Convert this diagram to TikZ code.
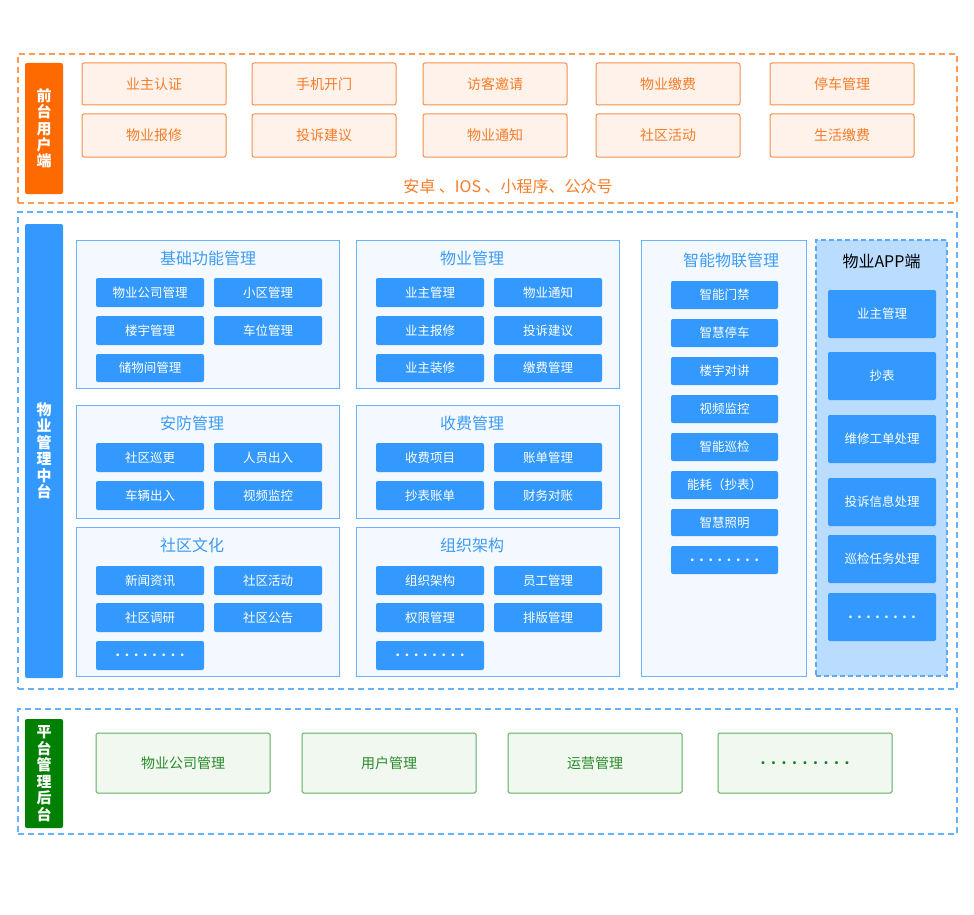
\documentclass[tikz,border=0pt]{standalone}
\usepackage{fontspec}
\setmainfont{Noto Sans CJK SC}
\definecolor{orDash}{HTML}{FF9A52}
\definecolor{orBar}{HTML}{FF6A00}
\definecolor{orFill}{HTML}{FFF2EA}
\definecolor{orLine}{HTML}{F5904A}
\definecolor{orText}{HTML}{F57C28}
\definecolor{blDash}{HTML}{66B2FF}
\definecolor{blBar}{HTML}{3399FF}
\definecolor{pnlFill}{HTML}{F4F9FF}
\definecolor{pnlLine}{HTML}{6BB3FF}
\definecolor{btnFill}{HTML}{3399FF}
\definecolor{ttlText}{HTML}{3D9BF5}
\definecolor{appFill}{HTML}{B9DCFF}
\definecolor{appLine}{HTML}{5AA9FA}
\definecolor{gBar}{HTML}{008000}
\definecolor{gFill}{HTML}{F0F8F0}
\definecolor{gLine}{HTML}{5DAE5D}
\definecolor{gText}{HTML}{2A8A2A}
\definecolor{gDots}{HTML}{1E7A1E}
\newcommand\bx[7]{\node[#1,anchor=north west,minimum width={(#4-#2)*1pt},minimum height={(#5-#3)*1pt}] (#6) at (#2,#3) {#7};}
\newcommand\dotrow[2]{\foreach \k in {1,...,#1}{\makebox[#2]{.}}}
\begin{document}
\begin{tikzpicture}[x=1pt,y=-1pt,
  every node/.style={inner sep=0pt,outer sep=0pt},
  odash/.style={draw=orDash,dash pattern=on 6pt off 4pt,line width=1.2pt},
  bdash/.style={draw=blDash,dash pattern=on 6pt off 4pt,line width=1.2pt},
  obar/.style={fill=orBar,rounded corners=2pt,text=white,align=center,font=\bfseries\fontsize{15}{16.2}\selectfont},
  bbar/.style={fill=blBar,rounded corners=2pt,text=white,align=center,font=\bfseries\fontsize{15}{16.5}\selectfont},
  gbar/.style={fill=gBar,rounded corners=2pt,text=white,align=center,font=\bfseries\fontsize{15}{16.5}\selectfont},
  obox/.style={fill=orFill,draw=orLine,line width=1pt,rounded corners=2pt,text=orText,font=\fontsize{14}{16}\selectfont},
  panel/.style={fill=pnlFill,draw=pnlLine,line width=1pt},
  apppanel/.style={fill=appFill,draw=appLine,line width=1.1pt,dash pattern=on 5pt off 3pt},
  btn/.style={fill=btnFill,rounded corners=2pt,text=white,font=\fontsize{12.5}{14}\selectfont},
  ttl/.style={text=ttlText,font=\fontsize{16}{18}\selectfont},
  gbox/.style={fill=gFill,draw=gLine,line width=1pt,rounded corners=1.5pt,text=gText,font=\fontsize{14}{16}\selectfont}
]
\fill[white] (0,0) rectangle (974,915);
\useasboundingbox (0,0) rectangle (974,915);

% ---------- top: front end ----------
\bx{odash}{18}{54}{957}{203}{topframe}{}
\bx{obar}{25}{63}{63}{194}{toplabel}{前\\台\\用\\户\\端}
\bx{obox}{82}{63}{226}{105}{f1}{业主认证}
\bx{obox}{252}{63}{396}{105}{f2}{手机开门}
\bx{obox}{423}{63}{567}{105}{f3}{访客邀请}
\bx{obox}{596}{63}{740}{105}{f4}{物业缴费}
\bx{obox}{770}{63}{914}{105}{f5}{停车管理}
\bx{obox}{82}{114}{226}{157}{f6}{物业报修}
\bx{obox}{252}{114}{396}{157}{f7}{投诉建议}
\bx{obox}{423}{114}{567}{157}{f8}{物业通知}
\bx{obox}{596}{114}{740}{157}{f9}{社区活动}
\bx{obox}{770}{114}{914}{157}{f10}{生活缴费}
\node[text=orText,font=\fontsize{16}{18}\selectfont] (platforms) at (508,186) {安卓 、IOS 、小程序、公众号};

% ---------- middle: management platform ----------
\bx{bdash}{18}{212}{957}{689}{midframe}{}
\bx{bbar}{25}{224}{63}{678}{midlabel}{物\\业\\管\\理\\中\\台}

% panel 基础功能管理
\bx{panel}{76}{240}{339}{388}{pA}{}
\node[ttl,anchor=west] (tA) at (160,258) {基础功能管理};
\bx{btn}{96}{278}{204}{307}{a1}{物业公司管理}
\bx{btn}{214}{278}{322}{307}{a2}{小区管理}
\bx{btn}{96}{316}{204}{345}{a3}{楼宇管理}
\bx{btn}{214}{316}{322}{345}{a4}{车位管理}
\bx{btn}{96}{354}{204}{382}{a5}{储物间管理}

% panel 物业管理
\bx{panel}{356}{240}{619}{388}{pB}{}
\node[ttl,anchor=west] (tB) at (440,258) {物业管理};
\bx{btn}{376}{278}{484}{307}{b1}{业主管理}
\bx{btn}{494}{278}{602}{307}{b2}{物业通知}
\bx{btn}{376}{316}{484}{345}{b3}{业主报修}
\bx{btn}{494}{316}{602}{345}{b4}{投诉建议}
\bx{btn}{376}{354}{484}{382}{b5}{业主装修}
\bx{btn}{494}{354}{602}{382}{b6}{缴费管理}

% panel 安防管理
\bx{panel}{76}{405}{339}{518}{pC}{}
\node[ttl,anchor=west] (tC) at (160,423) {安防管理};
\bx{btn}{96}{443}{204}{472}{c1}{社区巡更}
\bx{btn}{214}{443}{322}{472}{c2}{人员出入}
\bx{btn}{96}{481}{204}{510}{c3}{车辆出入}
\bx{btn}{214}{481}{322}{510}{c4}{视频监控}

% panel 收费管理
\bx{panel}{356}{405}{619}{518}{pD}{}
\node[ttl,anchor=west] (tD) at (440,423) {收费管理};
\bx{btn}{376}{443}{484}{472}{d1}{收费项目}
\bx{btn}{494}{443}{602}{472}{d2}{账单管理}
\bx{btn}{376}{481}{484}{510}{d3}{抄表账单}
\bx{btn}{494}{481}{602}{510}{d4}{财务对账}

% panel 社区文化
\bx{panel}{76}{527}{339}{676}{pE}{}
\node[ttl,anchor=west] (tE) at (160,545) {社区文化};
\bx{btn}{96}{566}{204}{595}{e1}{新闻资讯}
\bx{btn}{214}{566}{322}{595}{e2}{社区活动}
\bx{btn}{96}{603}{204}{632}{e3}{社区调研}
\bx{btn}{214}{603}{322}{632}{e4}{社区公告}
\bx{btn}{96}{641}{204}{670}{e5}{\bfseries\dotrow{8}{9.2pt}}

% panel 组织架构
\bx{panel}{356}{527}{619}{676}{pF}{}
\node[ttl,anchor=west] (tF) at (440,545) {组织架构};
\bx{btn}{376}{566}{484}{595}{g1}{组织架构}
\bx{btn}{494}{566}{602}{595}{g2}{员工管理}
\bx{btn}{376}{603}{484}{632}{g3}{权限管理}
\bx{btn}{494}{603}{602}{632}{g4}{排版管理}
\bx{btn}{376}{641}{484}{670}{g5}{\bfseries\dotrow{8}{9.2pt}}

% panel 智能物联管理
\bx{panel}{641}{240}{806}{676}{pG}{}
\node[ttl,anchor=west] (tG) at (683,260) {智能物联管理};
\bx{btn}{671}{281}{778}{309}{h1}{智能门禁}
\bx{btn}{671}{319}{778}{347}{h2}{智慧停车}
\bx{btn}{671}{357}{778}{385}{h3}{楼宇对讲}
\bx{btn}{671}{395}{778}{423}{h4}{视频监控}
\bx{btn}{671}{433}{778}{461}{h5}{智能巡检}
\bx{btn}{671}{471}{778}{499}{h6}{能耗（抄表）}
\bx{btn}{671}{509}{778}{536}{h7}{智慧照明}
\bx{btn}{671}{546}{778}{574}{h8}{\bfseries\dotrow{8}{9.2pt}}

% panel 物业APP端
\bx{apppanel}{816}{240}{947}{676}{pH}{}
\node[font=\fontsize{16}{18}\selectfont,text=black] (tH) at (881.5,261) {物业APP端};
\bx{btn}{828}{290}{936}{338}{k1}{业主管理}
\bx{btn}{828}{352}{936}{400}{k2}{抄表}
\bx{btn}{828}{415}{936}{463}{k3}{维修工单处理}
\bx{btn}{828}{478}{936}{526}{k4}{投诉信息处理}
\bx{btn}{828}{535}{936}{583}{k5}{巡检任务处理}
\bx{btn}{828}{593}{936}{641}{k6}{\bfseries\dotrow{8}{9pt}}

% ---------- bottom: admin back end ----------
\bx{bdash}{18}{709}{957}{834}{botframe}{}
\bx{gbar}{25}{719}{63}{828}{botlabel}{平\\台\\管\\理\\后\\台}
\bx{gbox}{96}{733}{270}{793}{m1}{物业公司管理}
\bx{gbox}{302}{733}{476}{793}{m2}{用户管理}
\bx{gbox}{508}{733}{682}{793}{m3}{运营管理}
\bx{gbox}{718}{733}{892}{793}{m4}{\textcolor{gDots}{\bfseries\dotrow{9}{10.5pt}}}
\end{tikzpicture}
\end{document}
